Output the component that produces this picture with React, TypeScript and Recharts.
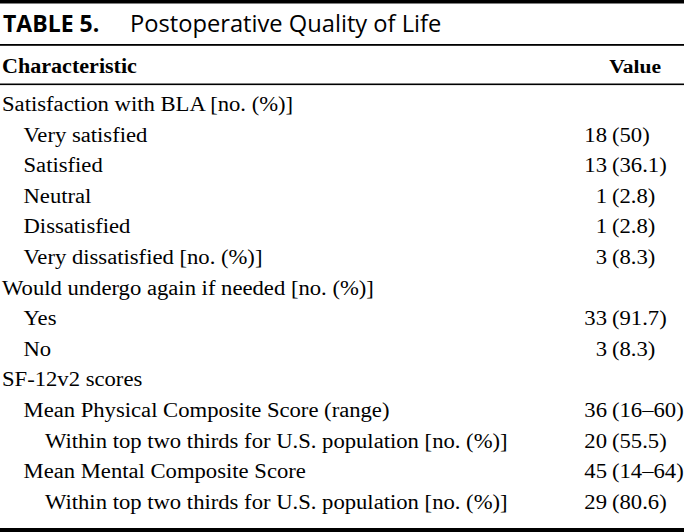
import { Surface, Text, Layer } from "recharts";

// Table 5 content
const titleLabel = "TABLE 5.";
const titleText = "Postoperative Quality of Life";
const headers = ["Characteristic", "Value"];

const rowLabels = [
  "Satisfaction with BLA [no. (%)]",
  "Very satisfied",
  "Satisfied",
  "Neutral",
  "Dissatisfied",
  "Very dissatisfied [no. (%)]",
  "Would undergo again if needed [no. (%)]",
  "Yes",
  "No",
  "SF-12v2 scores",
  "Mean Physical Composite Score (range)",
  "Within top two thirds for U.S. population [no. (%)]",
  "Mean Mental Composite Score",
  "Within top two thirds for U.S. population [no. (%)]",
];
const rowIndent = [0, 1, 1, 1, 1, 1, 0, 1, 1, 0, 1, 2, 1, 2];
const rowCounts = ["", "18", "13", "1", "1", "3", "", "33", "3", "", "36", "20", "45", "29"];
const rowDetails = ["", "(50)", "(36.1)", "(2.8)", "(2.8)", "(8.3)", "", "(91.7)", "(8.3)", "", "(16–60)", "(55.5)", "(14–64)", "(80.6)"];

const W = 684;
const H = 532;
const serif = { fontFamily: '"Liberation Serif", "Times New Roman", serif' };
const sans = { fontFamily: '"Open Sans", "Noto Sans", sans-serif' };

const firstBaseline = 111;
const rowStep = 30.6;
const indentStep = 21.5;
// the scanned table is a little wider than plain Times
const SX = 1.105;

function Cell({ x, y, anchor = "start", bold = false, size = 20.5, children }: any) {
  return (
    <g transform={`scale(${SX},1)`}>
      <Text
        x={x / SX}
        y={y}
        textAnchor={anchor}
        style={serif}
        fontWeight={bold ? 700 : 400}
        fontSize={size}
        fill="#000"
      >
        {children}
      </Text>
    </g>
  );
}

export default function App() {
  return (
    <div style={{ position: "fixed", left: 0, top: 0, width: W, height: H, background: "#fff" }}>
      <Surface width={W} height={H}>
        {/* rules */}
        <rect x={0} y={0} width={W} height={3.5} fill="#000" />
        <rect x={0} y={44} width={W} height={1.8} fill="#000" />
        <rect x={0} y={83.5} width={W} height={1.6} fill="#000" />
        <rect x={0} y={528} width={W} height={4} fill="#000" />

        {/* title */}
        <Text x={3} y={32} style={sans} fontWeight={700} fontSize={23} fill="#000">
          {titleLabel}
        </Text>
        <Text x={130} y={32} style={sans} fontSize={23.7} fill="#000">
          {titleText}
        </Text>

        {/* header */}
        <Cell x={2} y={73} bold size={20}>{headers[0]}</Cell>
        <Cell x={661} y={73} anchor="end" bold size={19.5}>{headers[1]}</Cell>

        {/* body */}
        {rowLabels.map((label, i) => {
          const y = firstBaseline + i * rowStep;
          return (
            <Layer key={i}>
              <Cell x={2 + rowIndent[i] * indentStep} y={y}>{label}</Cell>
              {rowCounts[i] && <Cell x={607} y={y} anchor="end">{rowCounts[i]}</Cell>}
              {rowDetails[i] && <Cell x={612} y={y}>{rowDetails[i]}</Cell>}
            </Layer>
          );
        })}
      </Surface>
    </div>
  );
}
